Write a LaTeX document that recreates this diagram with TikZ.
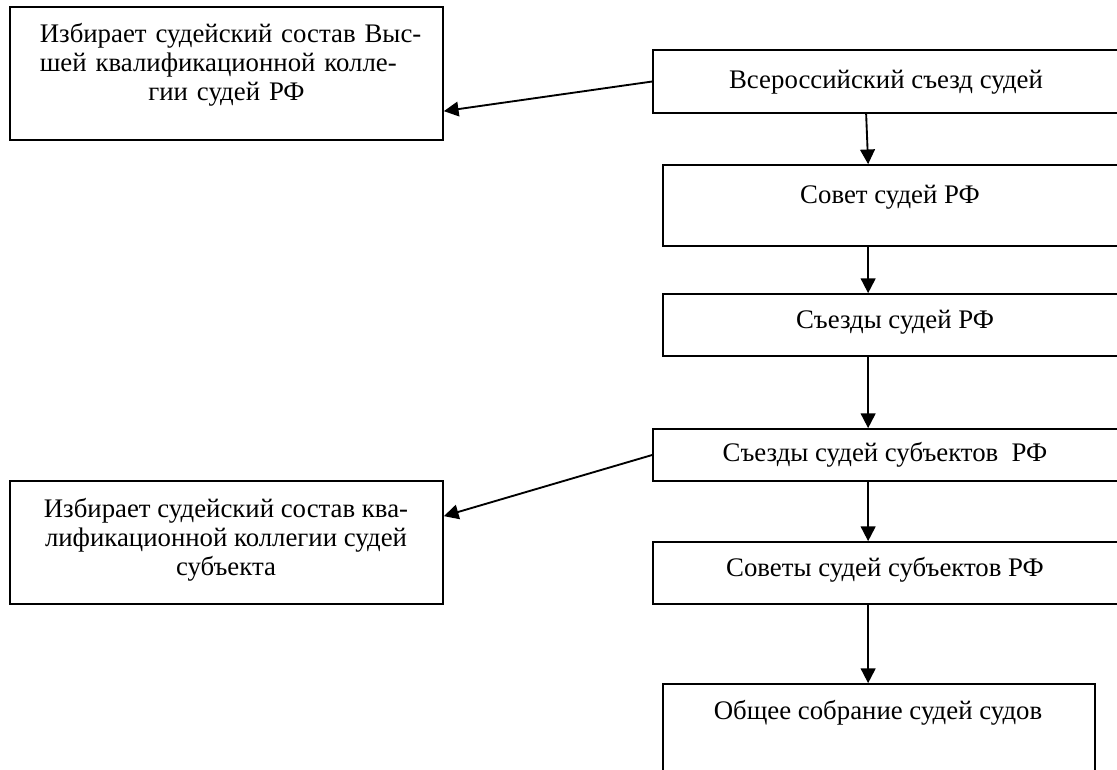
\documentclass[tikz,border=0pt]{standalone}
\usepackage{fontspec}
\setmainfont{Liberation Serif}
\usetikzlibrary{arrows.meta,calc}
\begin{document}
\begin{tikzpicture}[x=0.75pt,y=-0.75pt,
  box/.style={draw, line width=1.3pt, inner sep=0pt, fill=none},
  lbl/.style={inner sep=0pt, font=\fontsize{20.1}{21.75}\selectfont},
  conn/.style={line width=1.4pt, -{Triangle[length=11pt,width=11pt]}}]
\useasboundingbox (0,0) rectangle (1117,769);
\clip (0,0) rectangle (1117,769);
% boxes
\node[box, minimum width=324.75pt, minimum height=99.75pt] (A) at (226.5,73.5) {};
\node[box, minimum width=350.25pt, minimum height=47.25pt] (B) at (886.5,81.5) {};
\node[box, minimum width=342.75pt, minimum height=60.75pt] (C) at (891.5,205.5) {};
\node[box, minimum width=342.75pt, minimum height=46.5pt] (D) at (891.5,325) {};
\node[box, minimum width=350.25pt, minimum height=39pt] (E) at (886.5,455) {};
\node[box, minimum width=350.25pt, minimum height=46.5pt] (F) at (886.5,573) {};
\node[box, minimum width=324pt, minimum height=87pt] (G) at (879,742) {};
\node[box, minimum width=324.75pt, minimum height=92.25pt] (H) at (226.5,542.5) {};
% texts
\node[lbl, text width=280pt, align=center] (tA) at (226.5,65)
  {\makebox[280pt][s]{Избирает судейский состав Выс-}\\
   \makebox[280pt][s]{шей квалификационной колле-}\\
   гии судей РФ};
\node[lbl] (tB) at (886,82) {Всероссийский съезд судей};
\node[lbl] (tC) at (890,197) {Совет судей РФ};
\node[lbl] (tD) at (895,322) {Съезды судей РФ};
\node[lbl] (tE) at (885,455) {Съезды судей субъектов\ \ РФ};
\node[lbl] (tF) at (885,570) {Советы судей субъектов РФ};
\node[lbl] (tG) at (878,713) {Общее собрание судей судов};
\node[lbl, align=center] (tH) at (226,540)
  {Избирает судейский состав ква-\\
   лификационной коллегии судей\\
   субъекта};
% connectors
\draw[conn] (B.west) -- ($(A.north east)+(0,105)$);
\draw[conn] (E.west) -- ($(H.north east)+(0,36)$);
\draw[conn] ($(B.south west)+(214,0)$) -- ($(C.north west)+(206,0)$);
\draw[conn] ($(C.south west)+(206,0)$) -- ($(D.north west)+(206,0)$);
\draw[conn] ($(D.south west)+(206,0)$) -- ($(E.north west)+(216,0)$);
\draw[conn] ($(E.south west)+(216,0)$) -- ($(F.north west)+(216,0)$);
\draw[conn] ($(F.south west)+(216,0)$) -- ($(G.north west)+(206,0)$);
\end{tikzpicture}
\end{document}
